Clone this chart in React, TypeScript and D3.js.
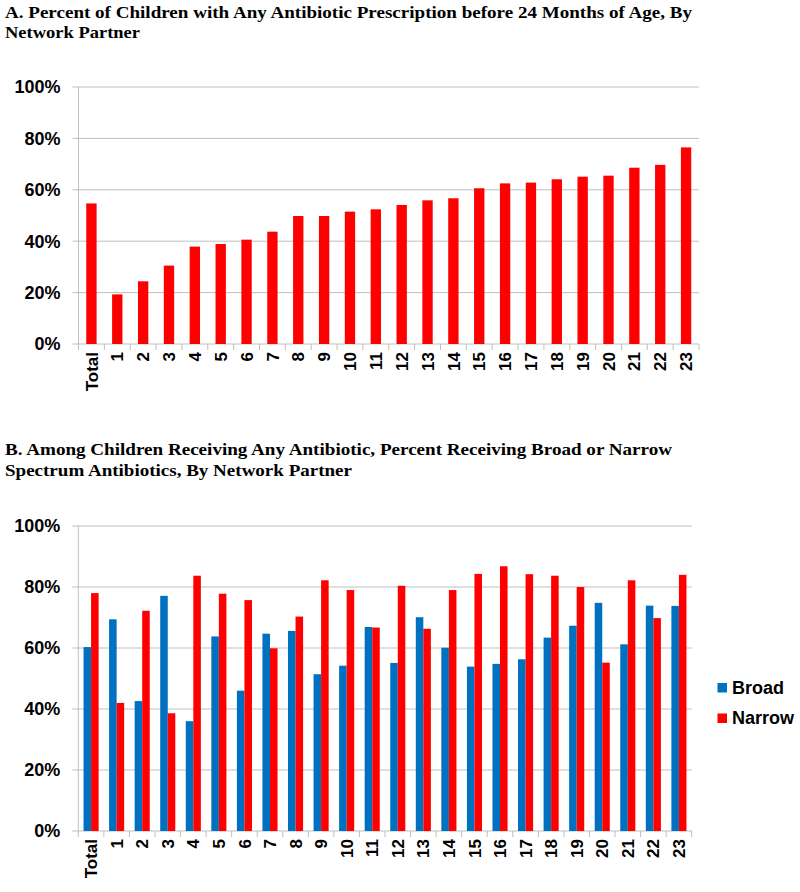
import React from "react";
import * as d3 from "d3";

const categories = ["Total", "1", "2", "3", "4", "5", "6", "7", "8", "9", "10", "11", "12", "13", "14", "15", "16", "17", "18", "19", "20", "21", "22", "23"];
const anyAntibiotic = [0.547, 0.193, 0.244, 0.305, 0.379, 0.389, 0.406, 0.437, 0.498, 0.498, 0.515, 0.524, 0.541, 0.559, 0.567, 0.606, 0.625, 0.628, 0.641, 0.651, 0.655, 0.686, 0.697, 0.765];
const broad = [0.603, 0.694, 0.426, 0.771, 0.360, 0.638, 0.460, 0.647, 0.656, 0.514, 0.542, 0.669, 0.551, 0.701, 0.601, 0.539, 0.548, 0.563, 0.634, 0.673, 0.748, 0.612, 0.739, 0.738];
const narrow = [0.780, 0.420, 0.722, 0.386, 0.837, 0.778, 0.757, 0.599, 0.703, 0.822, 0.790, 0.667, 0.804, 0.663, 0.790, 0.843, 0.868, 0.842, 0.837, 0.800, 0.552, 0.822, 0.698, 0.840];
const yTicks = [0, 0.2, 0.4, 0.6, 0.8, 1.0];
const titleA = ["A. Percent of Children with Any Antibiotic Prescription before 24 Months of Age, By", "Network Partner"];
const titleB = ["B. Among Children Receiving Any Antibiotic, Percent Receiving Broad or Narrow", "Spectrum Antibiotics, By Network Partner"];
const titleAWidths = [687, 135];
const titleBWidths = [667, 347];
const seriesNames = ["Broad", "Narrow"];
const seriesColors = ["#0070C0", "#FF0000"];

const SANS = "'Liberation Sans', Arial, sans-serif";
const SERIF = "'Liberation Serif', 'Times New Roman', serif";
const GRID = "#BFBFBF";

function Axes({ x, y, x0, x1 }: { x: d3.ScaleBand<string>; y: d3.ScaleLinear<number, number>; x0: number; x1: number }) {
  const fmt = d3.format(".0%");
  const y0 = y(0);
  return (
    <g>
      {yTicks.map((t) => (
        <g key={t}>
          <line x1={x0 - 6} x2={x1} y1={y(t)} y2={y(t)} stroke={GRID} strokeWidth={1} />
          <text x={x0 - 18} y={y(t)} dy="0.36em" textAnchor="end" fontFamily={SANS} fontWeight="bold" fontSize={18} fill="#000">
            {fmt(t)}
          </text>
        </g>
      ))}
      <line x1={x0} x2={x0} y1={y(1)} y2={y0 + 6} stroke={GRID} strokeWidth={1} />
      {categories.map((c) => (
        <line key={"t" + c} x1={(x(c) as number) + x.step()} x2={(x(c) as number) + x.step()} y1={y0} y2={y0 + 6} stroke={GRID} strokeWidth={1} />
      ))}
      {categories.map((c) => {
        const cx = (x(c) as number) + x.bandwidth() / 2;
        return (
          <text key={"l" + c} transform={`translate(${cx},${y0 + 8}) rotate(-90)`} dy="0.36em" textAnchor="end" fontFamily={SANS} fontWeight="bold" fontSize={17} fill="#000">
            {c}
          </text>
        );
      })}
    </g>
  );
}

export default function App() {
  // Chart A
  const xA = d3.scaleBand<string>().domain(categories).range([78.5, 699]).paddingInner(0).paddingOuter(0);
  const yA = d3.scaleLinear().domain([0, 1]).range([344, 87]);
  const barWA = xA.step() * 0.4;

  // Chart B
  const xB = d3.scaleBand<string>().domain(categories).range([78.3, 691.7]).paddingInner(0).paddingOuter(0);
  const yB = d3.scaleLinear().domain([0, 1]).range([831, 526]);
  const barWB = xB.step() * 0.295;
  const seriesB = [broad, narrow];

  return (
    <svg width={800} height={892} style={{ position: "absolute", left: 0, top: 0, background: "#fff" }}>
      <rect width={800} height={892} fill="#fff" />
      {titleA.map((t, i) => (
        <text key={t} x={5} y={17.5 + i * 20.5} textLength={titleAWidths[i]} lengthAdjust="spacingAndGlyphs" fontFamily={SERIF} fontWeight="bold" fontSize={17} fill="#000">
          {t}
        </text>
      ))}
      <Axes x={xA} y={yA} x0={78.5} x1={699} />
      {categories.map((c, i) => {
        const cx = (xA(c) as number) + xA.step() / 2;
        return <rect key={c} x={cx - barWA / 2} y={yA(anyAntibiotic[i])} width={barWA} height={yA(0) - yA(anyAntibiotic[i])} fill="#FF0000" />;
      })}

      {titleB.map((t, i) => (
        <text key={t} x={5} y={455 + i * 21} textLength={titleBWidths[i]} lengthAdjust="spacingAndGlyphs" fontFamily={SERIF} fontWeight="bold" fontSize={17} fill="#000">
          {t}
        </text>
      ))}
      <Axes x={xB} y={yB} x0={78.3} x1={691.7} />
      {categories.map((c, i) => {
        const cx = (xB(c) as number) + xB.step() / 2;
        return (
          <g key={c}>
            {seriesB.map((s, k) => (
              <rect key={k} x={cx - barWB + k * barWB} y={yB(s[i])} width={barWB} height={yB(0) - yB(s[i])} fill={seriesColors[k]} />
            ))}
          </g>
        );
      })}
      {seriesNames.map((n, k) => (
        <g key={n}>
          <rect x={717.5} y={683 + k * 30.5} width={9.5} height={9.5} fill={seriesColors[k]} />
          <text x={732} y={693.5 + k * 30.5} fontFamily={SANS} fontWeight="bold" fontSize={18} fill="#000">
            {n}
          </text>
        </g>
      ))}
    </svg>
  );
}
